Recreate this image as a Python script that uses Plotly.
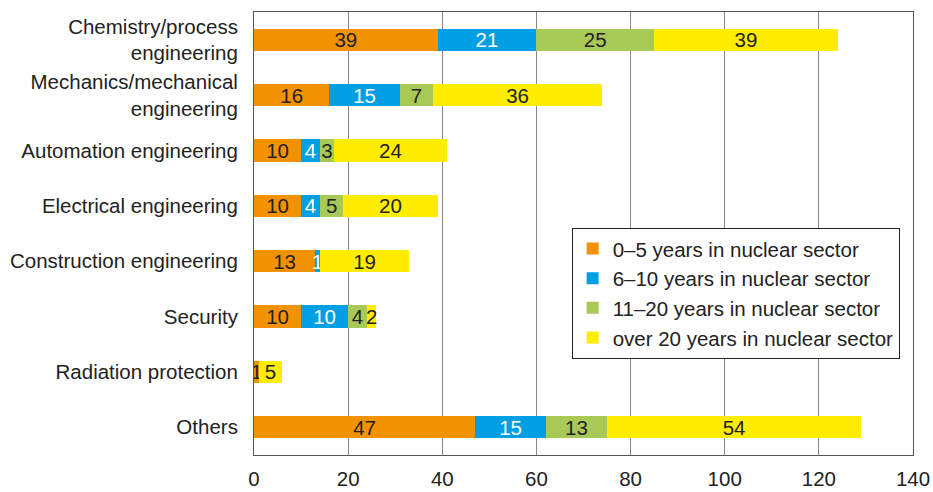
import plotly.graph_objects as go

# Data
categories = [
    "Chemistry/process<br>engineering",
    "Mechanics/mechanical<br>engineering",
    "Automation engineering",
    "Electrical engineering",
    "Construction engineering",
    "Security",
    "Radiation protection",
    "Others",
]
years_0_5 = [39, 16, 10, 10, 13, 10, 1, 47]
years_6_10 = [21, 15, 4, 4, 1, 10, 0, 15]
years_11_20 = [25, 7, 3, 5, 0, 4, 0, 13]
years_over_20 = [39, 36, 24, 20, 19, 2, 5, 54]

series = [
    ("0\u20135 years in nuclear sector", years_0_5, "#F39200", "#222222"),
    ("6\u201310 years in nuclear sector", years_6_10, "#009FE3", "#FFFFFF"),
    ("11\u201320 years in nuclear sector", years_11_20, "#A9C957", "#222222"),
    ("over 20 years in nuclear sector", years_over_20, "#FFED00", "#222222"),
]

fs = 20.5

fig = go.Figure()
for name, vals, color, tcolor in series:
    fig.add_trace(
        go.Bar(
            y=categories,
            x=vals,
            name=name,
            orientation="h",
            marker=dict(color=color, line=dict(width=0)),
            width=0.4,
            text=[str(v) if v else "" for v in vals],
            textposition="inside",
            insidetextanchor="middle",
            textangle=0,
            textfont=dict(color=tcolor, size=fs),
            constraintext="none",
            hoverinfo="x+name",
        )
    )

fig.update_layout(
    barmode="stack",
    width=933,
    height=492,
    margin=dict(l=254, r=20, t=12, b=37),
    paper_bgcolor="white",
    plot_bgcolor="white",
    font=dict(family="Liberation Sans, Arial, sans-serif", size=fs, color="#222222"),
    uniformtext=dict(minsize=fs, mode="show"),
    legend=dict(
        x=0.482,
        y=0.513,
        xanchor="left",
        yanchor="top",
        bordercolor="#222222",
        borderwidth=1,
        bgcolor="white",
        font=dict(size=fs),
        traceorder="normal",
        itemwidth=30,
    ),
)
fig.update_xaxes(
    range=[0, 140],
    dtick=20,
    showgrid=True,
    gridcolor="#888888",
    gridwidth=1,
    showline=True,
    linecolor="#555555",
    mirror=True,
    zeroline=False,
    ticks="",
    ticklabelstandoff=5,
    automargin=False,
)
fig.update_yaxes(
    autorange="reversed",
    showline=True,
    linecolor="#555555",
    mirror=True,
    ticks="",
    ticklabelstandoff=11,
    automargin=False,
)

# drop the default 8px body margin so the figure fills the window
fig.write_html(
    "out.html",
    config={"displayModeBar": False},
    post_script="document.body.style.margin='0'; document.body.style.overflow='hidden';",
)
